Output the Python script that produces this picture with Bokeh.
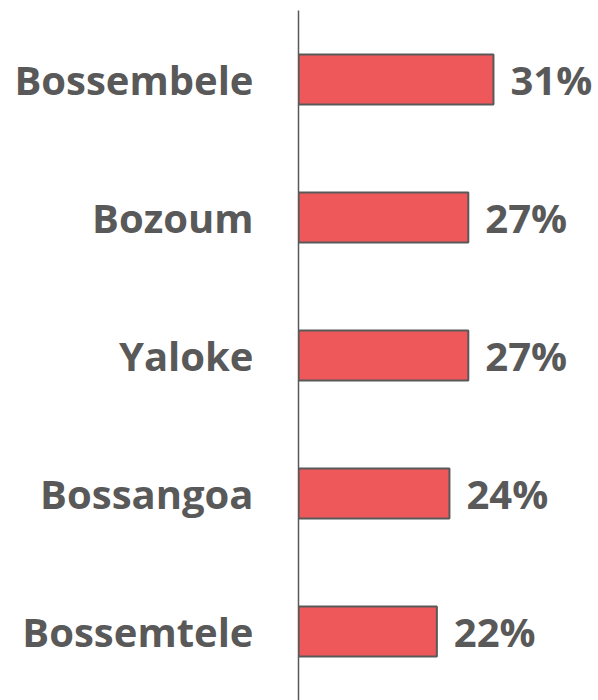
from bokeh.plotting import figure
from bokeh.models import Range1d, FactorRange, ColumnDataSource
from bokeh.core.properties import value
from bokeh.embed import file_html
from bokeh.resources import INLINE

towns = ["Bossembele", "Bozoum", "Yaloke", "Bossangoa", "Bossemtele"]
shares = [31, 27, 27, 24, 22]
labels = [f"{v}%" for v in shares]

src = ColumnDataSource(dict(town=towns, share=shares, label=labels))

p = figure(width=598, height=700, output_backend="svg", toolbar_location=None,
           y_range=FactorRange(factors=list(reversed(towns))),
           x_range=Range1d(0, 47.7),
           min_border_left=298, min_border_right=0, min_border_top=10, min_border_bottom=0)

p.hbar(y="town", right="share", left=0, height=0.362, source=src,
       fill_color="#EF585A", line_color="#595959", line_width=2)

p.text(x="share", y="town", text="label", source=src, x_offset=17,
       text_align="left", text_baseline="middle",
       text_font=value("Open Sans"), text_font_style="bold",
       text_font_size="40px", text_color="#595959")

p.xaxis.visible = False
p.xgrid.visible = False
p.ygrid.visible = False
p.outline_line_color = None

ax = p.yaxis[0]
ax.axis_line_color = "#595959"
ax.axis_line_width = 1.5
ax.major_tick_line_color = None
ax.minor_tick_line_color = None
ax.major_label_standoff = 39
ax.major_label_text_font = "Open Sans"
ax.major_label_text_font_style = "bold"
ax.major_label_text_font_size = "40px"
ax.major_label_text_color = "#595959"

open("out.html", "w").write(file_html(p, INLINE))
